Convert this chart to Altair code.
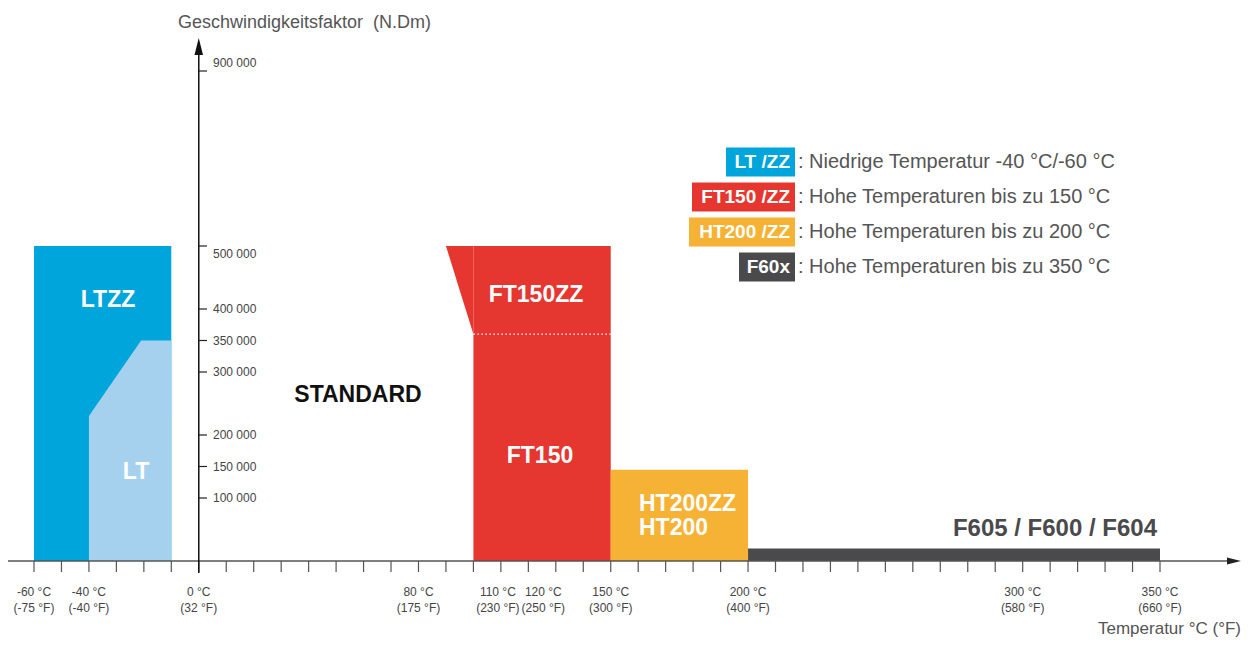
import altair as alt
import pandas as pd

# ---------------- data ----------------
band_names = ["LTZZ", "FT150", "HT200", "F60x"]
band_start = [-60, 100, 150, 200]
band_end = [-10, 150, 200, 350]
band_top = [500000, 500000, 145000, 20000]

lt_temp = [-40, -21, -10]
lt_top = [230000, 350000, 350000]

ftzz_temp = [90, 100]
ftzz_top = [500000, 500000]
ftzz_bottom = [500000, 360000]
ft_split = 360000

x_ticks = list(range(-60, 351, 10))
x_label_c = [-60, -40, 0, 80, 110, 120, 150, 200, 300, 350]
x_label_f = [-75, -40, 32, 175, 230, 250, 300, 400, 580, 660]

y_ticks = [100000, 150000, 200000, 300000, 350000, 400000, 500000, 900000]
y_labels = ["100 000", "150 000", "200 000", "300 000", "350 000", "400 000", "500 000", "900 000"]

region_labels = ["LTZZ", "LT", "STANDARD", "FT150ZZ", "FT150", "HT200ZZ", "HT200", "F605 / F600 / F604"]

legend_codes = ["LT /ZZ", "FT150 /ZZ", "HT200 /ZZ", "F60x"]
legend_texts = [": Niedrige Temperatur -40 °C/-60 °C",
                ": Hohe Temperaturen bis zu 150 °C",
                ": Hohe Temperaturen bis zu 200 °C",
                ": Hohe Temperaturen bis zu 350 °C"]

y_title = "Geschwindigkeitsfaktor\u00a0 (N.Dm)"
x_title = "Temperatur °C (°F)"

# ---------------- style ----------------
BLUE, LIGHT, RED, ORANGE, DARK = "#00A5DB", "#A6D1EE", "#E5362F", "#F6B234", "#4A4A4C"
band_colors = [BLUE, RED, ORANGE, DARK]
FONT = "Liberation Sans"
GREY_TXT = "#555555"

XS = alt.Scale(domain=[-60, 350], range=[26, 1152], nice=False, zero=False)
YS = alt.Scale(domain=[0, 500000, 900000], range=[553, 238, 63], nice=False, zero=False)

def X(f):
    return alt.X(f, scale=XS, axis=None)

def Y(f):
    return alt.Y(f, scale=YS, axis=None)

one = pd.DataFrame({"a": [0]})
layers = []

# bands
bands = pd.DataFrame({"name": band_names, "t0": band_start, "t1": band_end,
                      "v0": [0] * len(band_names), "v1": band_top})
layers.append(alt.Chart(bands).mark_rect().encode(
    x=X("t0:Q"), x2="t1:Q", y=Y("v0:Q"), y2="v1:Q",
    color=alt.Color("name:N", scale=alt.Scale(domain=band_names, range=band_colors), legend=None)))

# LT area
lt_df = pd.DataFrame({"t": lt_temp, "v": lt_top, "b": [0] * len(lt_temp)})
layers.append(alt.Chart(lt_df).mark_area(color=LIGHT, interpolate="linear").encode(
    x=X("t:Q"), y=Y("v:Q"), y2="b:Q"))

# FT150ZZ wedge
zz_df = pd.DataFrame({"t": ftzz_temp, "v": ftzz_top, "b": ftzz_bottom})
layers.append(alt.Chart(zz_df).mark_area(color=RED, interpolate="linear").encode(
    x=X("t:Q"), y=Y("v:Q"), y2="b:Q"))

# dotted split line
split_df = pd.DataFrame({"t0": [band_start[1]], "t1": [band_end[1]], "v": [ft_split]})
layers.append(alt.Chart(split_df).mark_rule(color="white", strokeDash=[1.5, 2.5], strokeWidth=1.2).encode(
    x=X("t0:Q"), x2="t1:Q", y=Y("v:Q")))

# x axis line + arrow
layers.append(alt.Chart(one).mark_rule(color=GREY_TXT, strokeWidth=1.5).encode(
    x=alt.value(0), x2=alt.value(1226), y=alt.value(553)))
layers.append(alt.Chart(one).mark_point(shape="M-1,-0.5L1,0L-1,0.5Z", filled=True, size=196,
                                        color="#222222", opacity=1).encode(
    x=alt.value(1226), y=alt.value(553)))

# x ticks
xt_df = pd.DataFrame({"t": x_ticks})
layers.append(alt.Chart(xt_df).mark_rule(color=GREY_TXT, strokeWidth=1.2).encode(
    x=X("t:Q"), y=alt.value(553), y2=alt.value(564)))

# x labels (two lines: °C and °F)
xl_df = pd.DataFrame({"c": x_label_c, "f": x_label_f})
xl_df["lbl"] = [f"{c} °C\n({f} °F)" for c, f in zip(x_label_c, x_label_f)]
def xlab(filt, dx):
    return alt.Chart(xl_df).transform_filter(filt).mark_text(
        font=FONT, fontSize=12, color="#444444", lineBreak="\n", lineHeight=16,
        align="center", baseline="middle", dx=dx).encode(
        x=X("c:Q"), y=alt.value(584), text="lbl:N")
layers.append(xlab("datum.c != 110 && datum.c != 120", 0))
layers.append(xlab("datum.c == 110", -3))
layers.append(xlab("datum.c == 120", 15))

# y axis line + arrow
zero_df = pd.DataFrame({"t": [0]})
layers.append(alt.Chart(zero_df).mark_rule(color="#111111", strokeWidth=1.5).encode(
    x=X("t:Q"), y=alt.value(42), y2=alt.value(565)))
layers.append(alt.Chart(zero_df).mark_point(shape="M-0.5,1L0,-1L0.5,1Z", filled=True, size=289,
                                            color="#111111", opacity=1).encode(
    x=X("t:Q"), y=alt.value(38.5)))

# y ticks + labels
yt_df = pd.DataFrame({"v": y_ticks, "lbl": y_labels})
layers.append(alt.Chart(yt_df).mark_rule(color="#222222", strokeWidth=1.2).encode(
    x=alt.value(191), x2=alt.value(199), y=Y("v:Q")))
def ylab(filt, dy):
    return alt.Chart(yt_df).transform_filter(filt).mark_text(
        font=FONT, fontSize=12, color="#444444", align="left", baseline="middle", dy=dy).encode(
        x=alt.value(205), y=Y("v:Q"), text="lbl:N")
layers.append(ylab("datum.v < 500000", 0))
layers.append(ylab("datum.v == 500000", 8))
layers.append(ylab("datum.v == 900000", -8))

# region labels
def label(txt, x, y, color="white", size=23, align="center"):
    return alt.Chart(pd.DataFrame({"s": [txt]})).mark_text(
        font=FONT, fontWeight="bold", fontSize=size, color=color, align=align, baseline="middle").encode(
        x=alt.value(x), y=alt.value(y), text="s:N")
layers.append(label(region_labels[0], 100, 292))
layers.append(label(region_labels[1], 128, 464))
layers.append(label(region_labels[2], 350, 387, color="#111111"))
layers.append(label(region_labels[3], 528, 287))
layers.append(label(region_labels[4], 532, 448))
layers.append(label(region_labels[5], 631, 496, align="left"))
layers.append(label(region_labels[6], 631, 520, align="left"))
layers.append(label(region_labels[7], 1149, 521, color=DARK, size=24, align="right"))

# legend
box_widths = [69, 103, 106, 56]
box_right = 787
for i in range(len(legend_codes)):
    yc = 154 + 35 * i
    ldf = pd.DataFrame({"code": [legend_codes[i]], "desc": [legend_texts[i]]})
    layers.append(alt.Chart(ldf).mark_rect(color=band_colors[i]).encode(
        x=alt.value(box_right - box_widths[i]), x2=alt.value(box_right),
        y=alt.value(yc - 14.5), y2=alt.value(yc + 14.5)))
    layers.append(alt.Chart(ldf).mark_text(
        font=FONT, fontWeight="bold", fontSize=19, color="white", align="right", baseline="middle").encode(
        x=alt.value(box_right - 5), y=alt.value(yc), text="code:N"))
    layers.append(alt.Chart(ldf).mark_text(
        font=FONT, fontSize=20, color=GREY_TXT, align="left", baseline="middle").encode(
        x=alt.value(box_right + 3), y=alt.value(yc), text="desc:N"))

# titles
layers.append(alt.Chart(pd.DataFrame({"s": [y_title]})).mark_text(
    font=FONT, fontSize=18, color=GREY_TXT, align="left", baseline="alphabetic").encode(
    x=alt.value(170), y=alt.value(20), text="s:N"))
layers.append(alt.Chart(pd.DataFrame({"s": [x_title]})).mark_text(
    font=FONT, fontSize=17, color=GREY_TXT, align="right", baseline="alphabetic").encode(
    x=alt.value(1233), y=alt.value(626), text="s:N"))

chart = alt.layer(*layers).properties(
    width=1234, height=630,
    padding=0,
    autosize="none",
).configure_view(stroke=None)

chart.save("out.html", embed_options={"renderer": "svg", "actions": False})
